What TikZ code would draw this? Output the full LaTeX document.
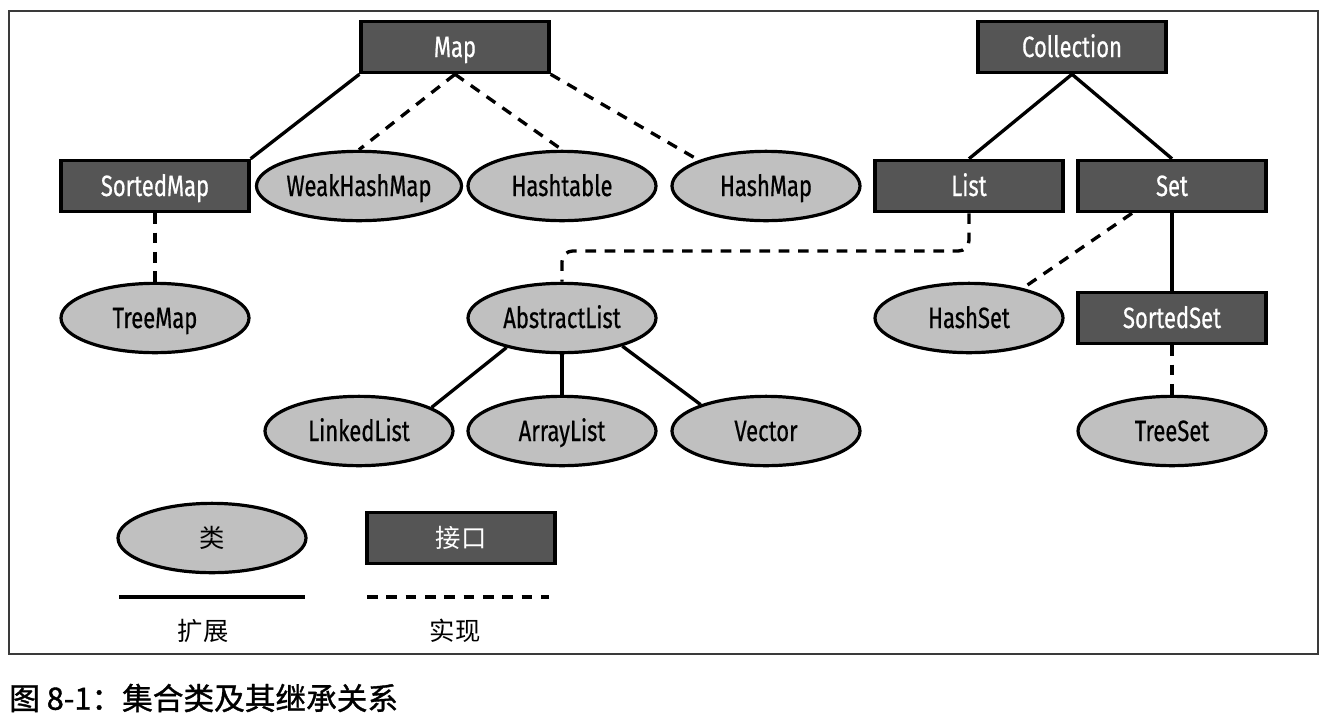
\documentclass[tikz,border=0pt]{standalone}
\usepackage{fontspec}
\usetikzlibrary{shapes.geometric}
\newfontfamily\labfont[FakeStretch=0.75,FakeBold=0.6]{Fira Sans}
\newfontfamily\cjkfont{Noto Sans CJK SC}
\newfontfamily\capfont[FakeBold=1.2]{Noto Sans CJK SC}
\definecolor{boxgray}{HTML}{555555}
\definecolor{ellgray}{HTML}{C0C0C0}
\definecolor{framegray}{HTML}{3A3A3A}
\tikzset{
  iface/.style={rectangle, draw=black, line width=2.4pt, fill=boxgray, text=white,
    minimum width=141pt, minimum height=38.5pt, inner sep=0pt,
    text height=15pt, text depth=0pt,
    font=\labfont\fontsize{22}{26}\selectfont},
  cls/.style={ellipse, draw=black, line width=2.4pt, fill=ellgray, text=black,
    minimum width=141pt, minimum height=52pt, inner sep=0pt,
    text height=15pt, text depth=0pt,
    font=\labfont\fontsize{22}{26}\selectfont},
  ext/.style={draw=black, line width=2.5pt},
  impl/.style={draw=black, line width=2.5pt, dash pattern=on 8pt off 6.5pt},
  cjklabel/.style={font=\cjkfont\fontsize{19}{22}\selectfont, text=black, inner sep=0pt}
}
\begin{document}
\begin{tikzpicture}[x=0.75pt, y=-0.75pt]
\useasboundingbox (0,0) rectangle (1327,722);
\draw[framegray, line width=1.2pt] (9,11) rectangle (1318,654);

% interfaces
\node[iface] (map) at (455,47) {Map};
\node[iface] (coll) at (1072,47) {Collection};
\node[iface] (smap) at (155,186) {SortedMap};
\node[iface] (list) at (969,186) {List};
\node[iface] (set) at (1172,186) {Set};
\node[iface] (sset) at (1172,318) {SortedSet};

% classes
\node[cls] (whm) at (359,186) {WeakHashMap};
\node[cls] (ht) at (562,186) {Hashtable};
\node[cls] (hm) at (766,186) {HashMap};
\node[cls] (tm) at (155,318) {TreeMap};
\node[cls] (al) at (562,318) {AbstractList};
\node[cls] (hs) at (969,318) {HashSet};
\node[cls] (ll) at (359,431) {LinkedList};
\node[cls] (arl) at (562,431) {ArrayList};
\node[cls] (vec) at (766,431) {Vector};
\node[cls] (ts) at (1172,431) {TreeSet};

% connectors
\draw[ext] (map.south west) -- (smap.north east);
\draw[impl] (map.south) -- (whm.north);
\draw[impl] (map.south) -- (ht.north);
\draw[impl] (map.south east) -- (hm.159);
\draw[impl] (smap.south) -- (tm.north);
\draw[ext] (coll.south) -- (list.north);
\draw[ext] (coll.south) -- (set.north);
\coordinate (bendA) at (969,251);
\coordinate (bendB) at (562,251);
\draw[impl, rounded corners=8pt] (list.south) -- (bendA) -- (bendB) -- (al.north);
\draw[impl] ([xshift=-30pt]set.south) -- (hs.29);
\draw[ext] (set.south) -- (sset.north);
\draw[impl] (sset.south) -- (ts.north);
\draw[ext] (al.208) -- (ll.18);
\draw[ext] (al.south) -- (arl.north);
\draw[ext] (al.335) -- (vec.158);

% legend
\node[cls, font=\cjkfont\fontsize{19}{22}\selectfont, text height=, text depth=] (lcls) at (212,538) {类};
\node[iface, font=\cjkfont\fontsize{19}{22}\selectfont, text height=, text depth=] (liface) at (461,538) {接口};
\coordinate (solA) at (119,597);
\coordinate (solB) at (305,597);
\coordinate (dashA) at (367,597);
\coordinate (dashB) at (549,597);
\draw[ext] (solA) -- (solB);
\draw[impl] (dashA) -- (dashB);
\node[cjklabel] (lext) at (203,631) {扩展};
\node[cjklabel] (limpl) at (455,631) {实现};

% caption
\node[anchor=west, inner sep=0pt, font=\capfont\fontsize{23}{27}\selectfont] (cap) at (9,698) {图 8-1：集合类及其继承关系};
\end{tikzpicture}
\end{document}
